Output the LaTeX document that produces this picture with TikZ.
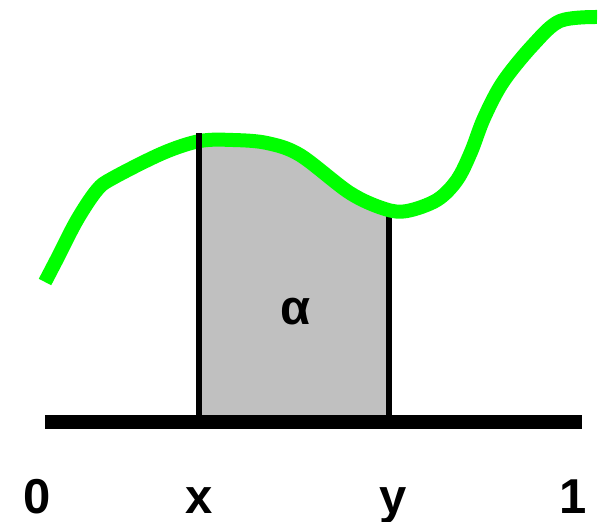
\documentclass[tikz,border=0pt]{standalone}
\usepackage{fontspec}
\setmainfont{Liberation Sans}
\definecolor{areagray}{RGB}{192,192,192}
\definecolor{curvegreen}{RGB}{0,255,0}
\tikzset{
  lbl/.style={font=\fontsize{49}{49}\selectfont\bfseries, anchor=base, inner sep=0pt},
  curve/.style={curvegreen, line width=14pt, line join=round},
  edge/.style={black, line width=6pt}
}
\begin{document}
\begin{tikzpicture}[x=1pt, y=-1pt]
  \useasboundingbox (0,0) rectangle (605,522);
  \coordinate (L) at (45,422); \coordinate (R) at (582,422);
  \coordinate (X) at (199,133); \coordinate (Y) at (389,216);
  \coordinate (X0) at (199,422); \coordinate (Y0) at (389,422);
  \def\pts{(45,282) (58,257) (77,220) (97,190) (113,178) (163,153) (200,141)
    (233,140) (267,143) (300,155) (350,193) (385,209) (407,211) (437,200)
    (457,180) (471,152) (484,118) (503,82) (533,45) (560,21) (597,17)}
  \begin{scope}
    \clip (X) ++(0,-20) rectangle (Y0);
    \fill[areagray] plot[smooth, tension=.55] coordinates {\pts} -- (597,422) -- (L) -- cycle;
  \end{scope}
  \draw[edge] (Y) -- (Y0);
  \draw[curve] plot[smooth, tension=.55] coordinates {\pts};
  \draw[edge] (X) -- (X0);
  \draw[black, line width=14pt] (L) -- (R);
  \node[lbl] (a) at (296,324) {α};
  \foreach \n/\t/\x in {l0/0/37, lx/x/199, ly/y/393, l1/1/573}
    \node[lbl] (\n) at (\x,513) {\t};
\end{tikzpicture}
\end{document}
